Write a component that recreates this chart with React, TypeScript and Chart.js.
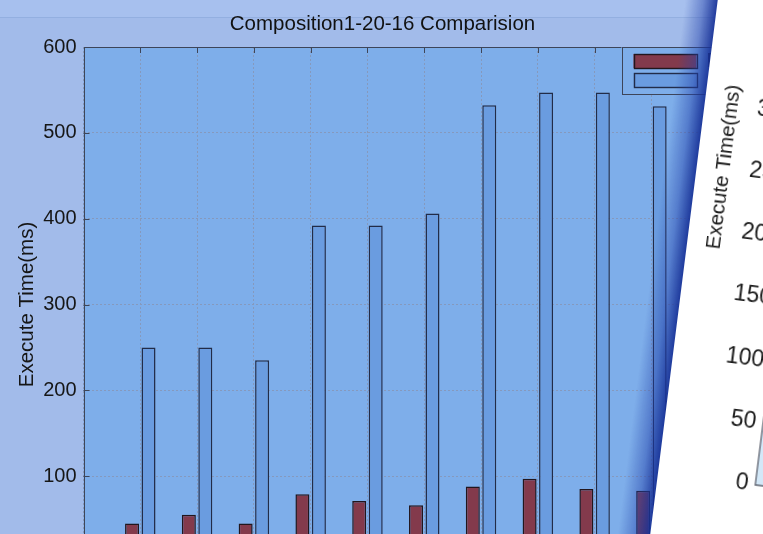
import React, { useEffect, useRef } from "react";
import { Chart, registerables } from "chart.js";

Chart.register(...registerables);

const FONT = "'Liberation Sans', Arial, Helvetica, sans-serif";

// ---- data ----
const categories = [1, 2, 3, 4, 5, 6, 7, 8, 9, 10];
const seriesNames = ["Parallel", "Serial"];
const parallelValues = [45, 55, 45, 79, 71, 66, 88, 97, 85, 83];
const serialValues = [250, 250, 235, 392, 392, 406, 532, 547, 547, 531];
const yTickStep = 100;
const yMax = 600;
const xMax = 12;
const title = "Composition1-20-16 Comparision";
const yTitle = "Execute Time(ms)";
// second (rotated) figure
const y2Max = 500;
const y2Step = 50;

const OUTER = "#a2bbea";
const PLOT = "#7eaeea";
const RED = "#833a4c";
const BLUE = "#6a9ce0";
const EDGE = "#222c48";
const GRID = "#8599bd";
const FRAME = "#3d4559";

const plotBg = {
  id: "plotBg",
  beforeDraw(chart: any, _a: any, opts: any) {
    const { ctx, chartArea: a } = chart;
    ctx.save();
    ctx.fillStyle = opts.color;
    ctx.fillRect(a.left, a.top, a.right - a.left, a.bottom - a.top);
    ctx.restore();
  },
};

const frameAndLegend = {
  id: "frameAndLegend",
  afterDatasetsDraw(chart: any) {
    const { ctx, chartArea: a, scales } = chart;
    ctx.save();
    ctx.strokeStyle = FRAME;
    ctx.lineWidth = 1;
    for (let v = yTickStep; v < yMax; v += yTickStep) {
      const y = Math.round(scales.y.getPixelForValue(v)) + 0.5;
      ctx.beginPath();
      ctx.moveTo(a.left, y);
      ctx.lineTo(a.left + 6, y);
      ctx.stroke();
    }
    for (let v = 1; v < xMax; v++) {
      const x = Math.round(scales.x.getPixelForValue(v)) + 0.5;
      ctx.beginPath();
      ctx.moveTo(x, a.top);
      ctx.lineTo(x, a.top + 6);
      ctx.stroke();
    }
    ctx.strokeRect(Math.round(a.left) + 0.5, Math.round(a.top) + 0.5, a.right - a.left, a.bottom - a.top);
    ctx.restore();
  },
  afterDraw(chart: any) {
    const { ctx, chartArea: a } = chart;
    const ds = chart.data.datasets;
    ctx.save();
    ctx.font = `20px ${FONT}`;
    let tw = 0;
    ds.forEach((d: any) => (tw = Math.max(tw, ctx.measureText(d.label).width)));
    const left = a.right - 143.5;
    const top = a.top;
    const w = 85 + tw + 12;
    const h = 47;
    ctx.fillStyle = PLOT;
    ctx.fillRect(left, top, w, h);
    ctx.strokeStyle = FRAME;
    ctx.lineWidth = 1;
    ctx.strokeRect(Math.round(left) + 0.5, Math.round(top) + 0.5, w, h);
    ds.forEach((d: any, i: number) => {
      const sy = top + 7 + i * 19.3;
      ctx.fillStyle = d.backgroundColor;
      ctx.fillRect(left + 12, sy, 63, 14);
      ctx.strokeStyle = d.borderColor;
      ctx.lineWidth = 1.4;
      ctx.strokeRect(Math.round(left + 12) + 0.5, Math.round(sy) + 0.5, 63, 14);
      ctx.fillStyle = "#111";
      ctx.textBaseline = "middle";
      ctx.fillText(d.label, left + 85, sy + 7);
    });
    ctx.restore();
  },
};

const axes2 = {
  id: "axes2",
  beforeDraw(chart: any) {
    const { ctx, chartArea: a } = chart;
    ctx.save();
    ctx.fillStyle = "#d3e8f8";
    ctx.fillRect(a.left, a.top, a.right - a.left, a.bottom - a.top);
    ctx.restore();
  },
  afterDraw(chart: any) {
    const { ctx, chartArea: a } = chart;
    ctx.save();
    ctx.strokeStyle = "#5f6470";
    ctx.lineWidth = 1.3;
    ctx.beginPath();
    ctx.moveTo(a.left, a.top);
    ctx.lineTo(a.left, a.bottom);
    ctx.lineTo(a.right, a.bottom);
    ctx.stroke();
    ctx.restore();
  },
};

export default function App() {
  const ref1 = useRef<HTMLCanvasElement>(null);
  const ref2 = useRef<HTMLCanvasElement>(null);

  useEffect(() => {
    const c1 = new Chart(ref1.current as HTMLCanvasElement, {
      type: "bar",
      data: {
        datasets: [
          {
            label: seriesNames[0],
            data: categories.map((c, i) => ({ x: c, y: parallelValues[i] })),
            backgroundColor: RED,
            borderColor: "#22161d",
            borderWidth: 1.5,
            categoryPercentage: 0.58,
            barPercentage: 0.85,
          },
          {
            label: seriesNames[1],
            data: categories.map((c, i) => ({ x: c, y: serialValues[i] })),
            backgroundColor: BLUE,
            borderColor: EDGE,
            borderWidth: 1.5,
            categoryPercentage: 0.58,
            barPercentage: 0.85,
          },
        ],
      },
      options: {
        responsive: false,
        animation: false,
        events: [],
        layout: { padding: { left: 0, right: 35, top: 0, bottom: 38 } },
        plugins: {
          legend: { display: false },
          tooltip: { enabled: false },
          title: {
            display: true,
            text: title,
            color: "#111",
            font: { family: FONT, size: 20.5, weight: "normal" },
            padding: { top: 11.7, bottom: 10.7 },
          },
          plotBg: { color: PLOT },
        } as any,
        scales: {
          x: {
            type: "linear",
            min: 0,
            max: xMax,
            offset: false,
            ticks: { display: false, stepSize: 1 },
            grid: { color: GRID, drawTicks: false, offset: false, lineWidth: 1 },
            border: { display: false, dash: [2, 2] },
          },
          y: {
            min: 0,
            max: yMax,
            ticks: { stepSize: yTickStep, color: "#161616", padding: 7, font: { family: FONT, size: 20 } },
            grid: { color: GRID, drawTicks: false, lineWidth: 1 },
            border: { display: false, dash: [2, 2] },
            title: {
              display: true,
              text: yTitle,
              color: "#161616",
              font: { family: FONT, size: 20.5 },
              padding: { top: 15.5, bottom: 0 },
            },
            afterFit: (s: any) => {
              s.width = 83.5;
            },
          },
        } as any,
      },
      plugins: [plotBg, frameAndLegend],
    });

    const c2 = new Chart(ref2.current as HTMLCanvasElement, {
      type: "bar",
      data: { datasets: [] },
      options: {
        responsive: false,
        animation: false,
        events: [],
        layout: { padding: { left: 0, right: 0, top: 55, bottom: 122 } },
        plugins: { legend: { display: false }, tooltip: { enabled: false } },
        scales: {
          x: {
            type: "linear",
            min: 0,
            max: 10,
            offset: false,
            ticks: { display: false },
            grid: { display: false, drawTicks: false },
            border: { display: false },
          },
          y: {
            min: 0,
            max: y2Max,
            ticks: { stepSize: y2Step, color: "#1a1a1a", padding: 7, font: { family: FONT, size: 23 } },
            grid: { display: false, drawTicks: false },
            border: { display: false },
            title: {
              display: true,
              text: yTitle,
              color: "#1a1a1a",
              font: { family: FONT, size: 20.5 },
              padding: { top: 15, bottom: 0 },
            },
            afterFit: (s: any) => {
              s.width = 98;
            },
          },
        } as any,
      },
      plugins: [axes2],
    });

    return () => {
      c1.destroy();
      c2.destroy();
    };
  }, []);

  return (
    <div
      style={{
        position: "fixed",
        left: 0,
        top: 0,
        width: 763,
        height: 534,
        overflow: "hidden",
        background: OUTER,
      }}
    >
      <div
        style={{
          position: "absolute",
          left: 0,
          top: 0,
          width: 763,
          height: 17,
          background: "#a7c0ee",
          borderBottom: "1px solid #93afe0",
        }}
      />
      <canvas ref={ref1} width={800} height={600} style={{ position: "absolute", left: 0, top: 0 }} />
      <div
        style={{
          position: "absolute",
          left: 743.26,
          top: -200,
          width: 520,
          height: 1000,
          background: "#ffffff",
          transformOrigin: "0 0",
          transform: "rotate(7.2deg)",
        }}
      >
        <div
          style={{
            position: "absolute",
            left: -32,
            top: 0,
            width: 32,
            height: "100%",
            background:
              "linear-gradient(to right, rgba(40,75,175,0) 0%, rgba(35,65,170,0.45) 55%, rgba(22,48,150,0.92) 100%)",
          }}
        />
        <canvas ref={ref2} width={500} height={800} style={{ position: "absolute", left: 0, top: 0 }} />
      </div>
    </div>
  );
}
